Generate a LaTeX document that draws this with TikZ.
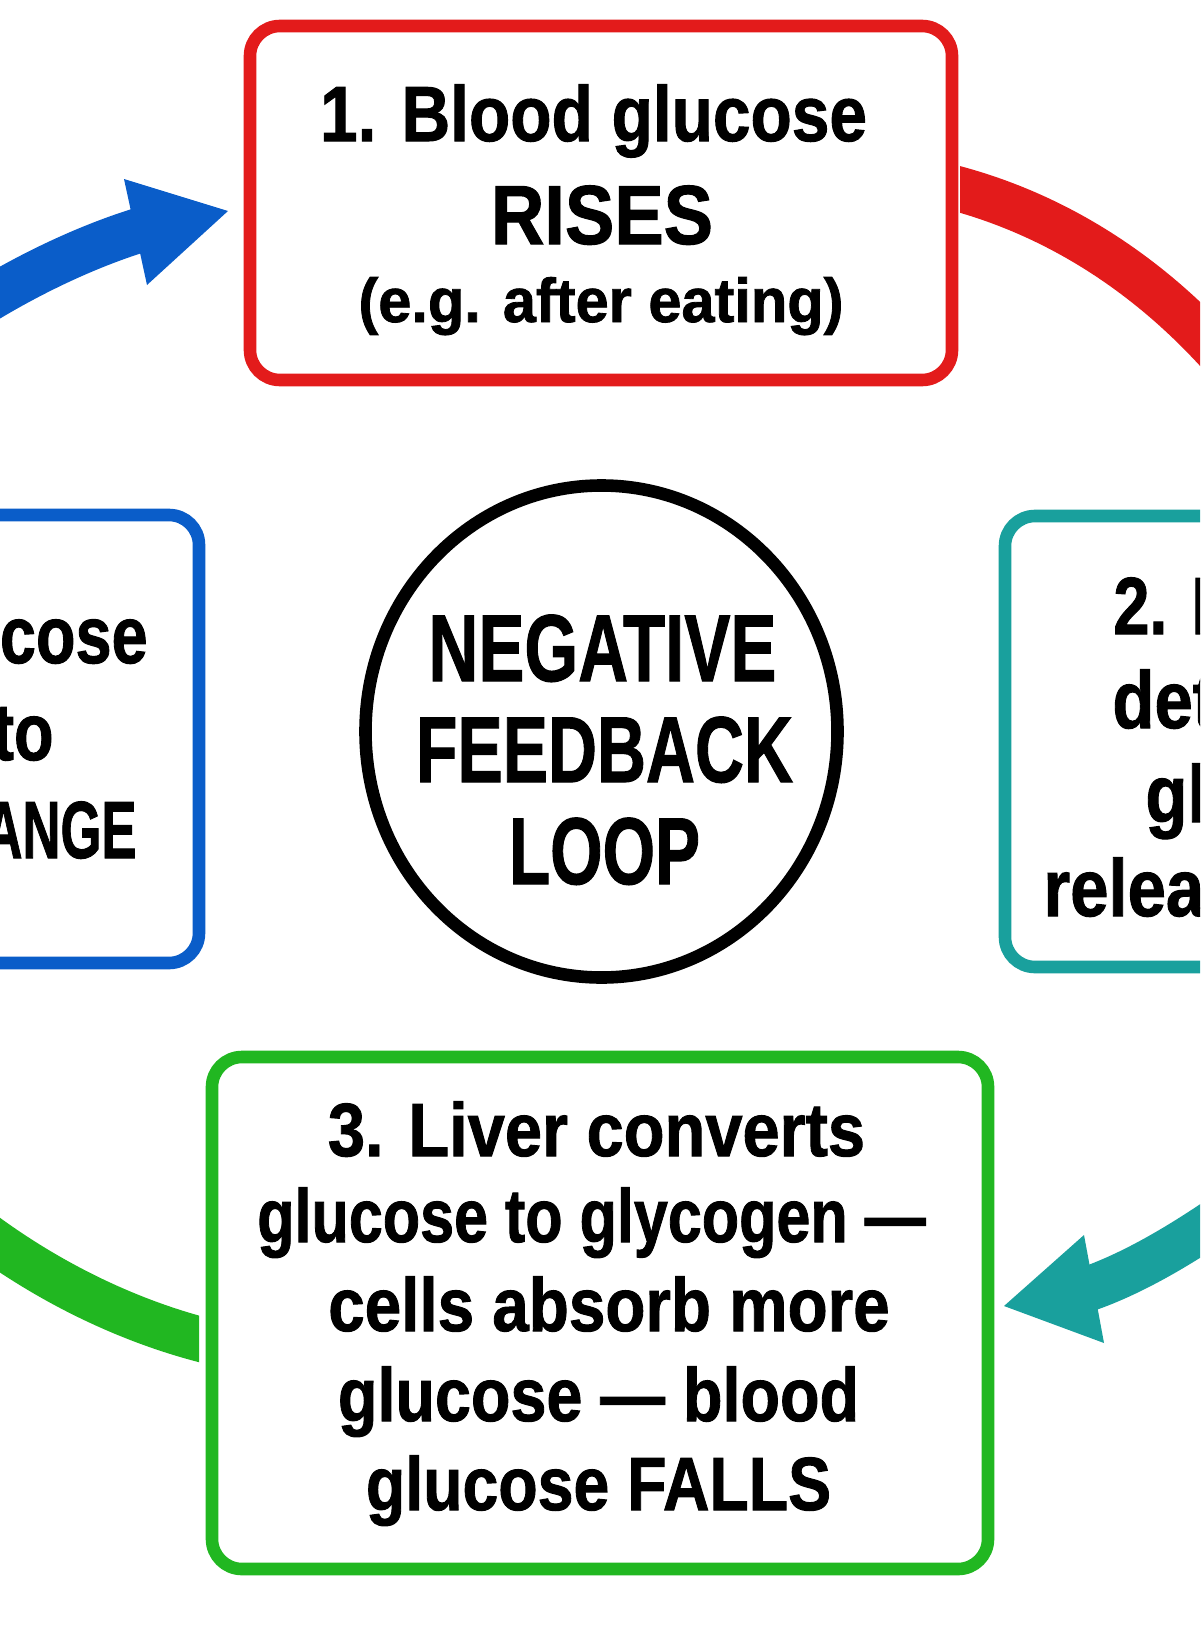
\documentclass[tikz,border=0pt]{standalone}
\usepackage{fontspec}
\usepackage{graphicx}
\setmainfont{Liberation Sans}[BoldFeatures={FakeBold=1.3}]
\usetikzlibrary{shapes.geometric}
\definecolor{cred}{HTML}{E31B1B}
\definecolor{cblue}{HTML}{0A5DC9}
\definecolor{cteal}{HTML}{19A09D}
\definecolor{cgreen}{HTML}{21B721}
\newcommand{\ltx}[3]{\fontsize{#1}{#1}\selectfont\scalebox{#2}[1]{#3}}
\begin{document}
\begin{tikzpicture}[x=0.5pt,y=-0.5pt,
  box/.style={rectangle, draw, line width=6.3pt, rounded corners=15pt, fill=white, inner sep=0pt},
  txt/.style={inner sep=0pt, font=\bfseries, text=black},
  band/.style={line width=22.5pt, line cap=butt}]
\fill[white] (0,0) rectangle (1200,1632);
\clip (0,0) rectangle (1200,1632);

% ---- connectors ----
% blue: step 4 -> step 1
\coordinate (bS) at (-80,345);
\coordinate (bE) at (140,230);
\draw[band, cblue] (bS) .. controls (-20,300) and (60,255) .. (bE);
\coordinate (bT) at (228,211);
\coordinate (bL) at (124,179);
\coordinate (bR) at (147,285);
\fill[cblue] (bT) -- (bL) -- (bR) -- cycle;

% red: step 1 -> step 2
\begin{scope}
\clip (960,0) rectangle (1200,800);
\coordinate (rS) at (939,184);
\coordinate (rE) at (1310,480);
\draw[band, cred] (rS) .. controls (1097,221) and (1225,330) .. (rE);
\end{scope}

% teal: step 2 -> step 3
\coordinate (tS) at (1260,1190);
\coordinate (tE) at (1085,1290);
\draw[band, cteal] (tS) .. controls (1215,1222) and (1150,1268) .. (tE);
\coordinate (tT) at (1004,1306);
\coordinate (tU) at (1084,1235);
\coordinate (tD) at (1104,1343);
\fill[cteal] (tT) -- (tU) -- (tD) -- cycle;

% green: step 3 -> step 4
\begin{scope}
\clip (0,1000) rectangle (199,1632);
\coordinate (gS) at (-196,1036);
\coordinate (gE) at (215,1343);
\draw[band, cgreen] (gS) .. controls (-110,1185) and (48,1303) .. (gE);
\end{scope}

% ---- boxes ----
\node[box, draw=cred, minimum width=351pt, minimum height=177pt] (red) at (601,203) {};
\node[box, draw=cblue, minimum width=299.5pt, minimum height=224pt] (blue) at (-100.5,739) {};
\node[box, draw=cteal, minimum width=297.5pt, minimum height=225.5pt] (teal) at (1302.5,741.5) {};
\node[box, draw=cgreen, minimum width=388pt, minimum height=256pt] (green) at (600,1313) {};
\node[ellipse, draw=black, line width=6.3pt, minimum width=236pt, minimum height=246pt, inner sep=0pt, fill=white] (loop) at (601.5,731.5) {};

% ---- texts ----
\node[txt, anchor=base] (r1) at (593.5,141) {\ltx{39.1}{0.864}{1. Blood glucose}};
\node[txt, anchor=base] (r2) at (602,244) {\ltx{41.9}{0.883}{RISES}};
\node[txt, anchor=base] (r3) at (601,322) {\ltx{31}{0.96}{(e.g. after eating)}};

\node[txt, anchor=base] (c1) at (602.5,681) {\ltx{47.5}{0.727}{NEGATIVE}};
\node[txt, anchor=base] (c2) at (604.5,782) {\ltx{46.8}{0.725}{FEEDBACK}};
\node[txt, anchor=base] (c3) at (604.5,884) {\ltx{47.5}{0.71}{LOOP}};

\node[txt, anchor=base] (g1) at (596.5,1156) {\ltx{37.7}{0.886}{3. Liver converts}};
\node[txt, anchor=base] (g2) at (591.5,1242) {\ltx{37.7}{0.81}{glucose to glycogen —}};
\node[txt, anchor=base] (g3) at (609,1331) {\ltx{37.7}{0.87}{cells absorb more}};
\node[txt, anchor=base] (g4) at (598.5,1421) {\ltx{37.7}{0.858}{glucose — blood}};
\node[txt, anchor=base] (g5) at (598.5,1510) {\ltx{37.7}{0.854}{glucose FALLS}};

\node[txt, anchor=base west] (t1) at (1113,634) {\ltx{40.5}{0.80}{2. Pancreas}};
\node[txt, anchor=base west] (t2) at (1112,728) {\ltx{40.5}{0.85}{detects}};
\node[txt, anchor=base west] (t3) at (1145,822) {\ltx{40.5}{0.85}{glucose}};
\node[txt, anchor=base west] (t4) at (1043,916) {\ltx{40.5}{0.85}{releases}};

\node[txt, anchor=base east] (b1) at (148,663) {\ltx{40.5}{0.80}{glucose}};
\node[txt, anchor=base east] (b2) at (54,760) {\ltx{40.5}{0.80}{to}};
\node[txt, anchor=base east] (b3) at (137,858) {\ltx{40.5}{0.65}{RANGE}};
\end{tikzpicture}
\end{document}
